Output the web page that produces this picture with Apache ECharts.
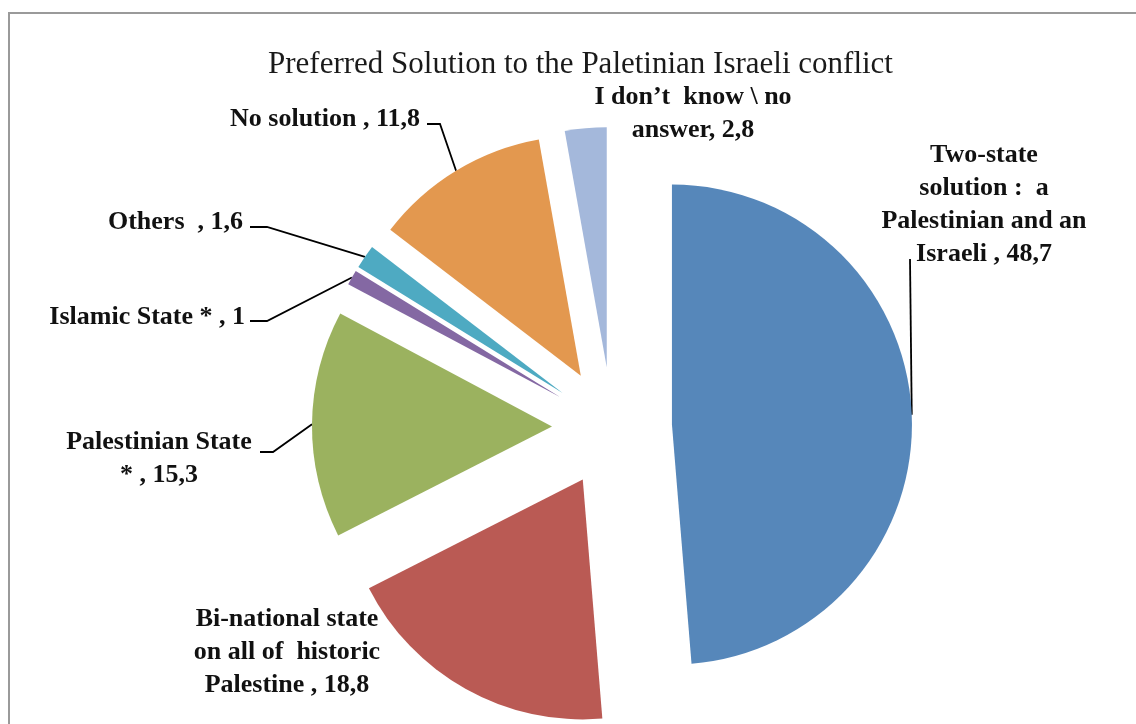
<!DOCTYPE html>
<html><head><meta charset="utf-8">
<script src="https://cdn.jsdelivr.net/npm/echarts@6/dist/echarts.min.js"></script>
<style>html,body{margin:0;padding:0;background:#fff}#c{width:1136px;height:724px}</style>
</head><body><div id="c"></div>
<script>
const titleText = 'Preferred Solution to the Paletinian Israeli conflict';
const categories = [
  'Two-state\nsolution :  a\nPalestinian and an\nIsraeli',
  'Bi-national state\non all of  historic\nPalestine',
  'Palestinian State\n*',
  'Islamic State *',
  'Others ',
  'No solution',
  'I don\u2019t  know \\ no\nanswer'
];
const values = [48.7, 18.8, 15.3, 1, 1.6, 11.8, 2.8];
const separators = [' , ', ' , ', ' , ', ' , ', ' , ', ' , ', ', '];
const colors = ['#5687BA', '#BA5A54', '#9BB25F', '#8468A3', '#4EAAC2', '#E3984F', '#A4B8DB'];

// label placement (text anchor, alignment) and leader elbow points
const labelPos = [
  {x: 984, y: 205, align: 'center', elbow: [[910, 259]]},
  {x: 287, y: 652, align: 'center', elbow: null},
  {x: 159, y: 459, align: 'center', elbow: [[273, 452], [260, 452]]},
  {x: 245, y: 317, align: 'right', elbow: [[267, 321], [250, 321]]},
  {x: 243, y: 222, align: 'right', elbow: [[267, 227], [250, 227]]},
  {x: 420, y: 119, align: 'right', elbow: [[440, 124], [427, 124]]},
  {x: 693, y: 114, align: 'center', elbow: null}
];

const EXPLODE = 60;
const CENTER = [612, 427];
const RADIUS = 240;
const LEN1 = 20;

const fmt = v => String(v).replace('.', ',');

const sliceData = values.map((v, i) => ({
  name: categories[i], value: v, selected: true,
  itemStyle: {color: colors[i]}
}));
const labelData = values.map((v, i) => ({
  name: categories[i], value: v,
  label: {formatter: categories[i] + separators[i] + fmt(v)},
  labelLine: {show: !!labelPos[i].elbow}
}));

const chart = echarts.init(document.getElementById('c'), null, {renderer: 'canvas'});
chart.setOption({
  animation: false,
  backgroundColor: '#fff',
  title: {
    text: titleText, left: 263, top: 44,
    textStyle: {fontFamily: 'Liberation Serif', fontWeight: 'normal', fontSize: 31, color: '#1a1a1a'}
  },
  graphic: [{
    type: 'rect', silent: true,
    shape: {x: 9, y: 13, width: 1300, height: 900},
    style: {fill: null, stroke: '#9a9a9a', lineWidth: 2}
  }],
  series: [{
    type: 'pie',
    center: CENTER,
    radius: RADIUS,
    startAngle: 90,
    clockwise: true,
    selectedMode: 'multiple',
    selectedOffset: EXPLODE,
    data: sliceData,
    emphasis: {disabled: true},
    label: {show: false},
    labelLine: {show: false}
  }, {
    type: 'pie',
    silent: true,
    center: CENTER,
    radius: RADIUS,
    startAngle: 90,
    clockwise: true,
    avoidLabelOverlap: false,
    data: labelData,
    itemStyle: {color: 'rgba(0,0,0,0)'},
    emphasis: {disabled: true},
    label: {
      show: true, position: 'outside',
      fontFamily: 'Liberation Serif', fontWeight: 'bold', fontSize: 26,
      lineHeight: 33, color: '#111'
    },
    labelLine: {show: true, lineStyle: {color: '#000', width: 1.8}, length: LEN1, length2: 10},
    labelLayout: function (p) {
      const lp = labelPos[p.dataIndex];
      const res = {x: lp.x, y: lp.y, align: lp.align, verticalAlign: 'middle'};
      const pts = p.labelLinePoints;
      if (lp.elbow && pts) {
        const dx = pts[1][0] - pts[0][0], dy = pts[1][1] - pts[0][1];
        const d = Math.sqrt(dx * dx + dy * dy) || 1;
        const anchor = [pts[0][0] + EXPLODE * dx / d, pts[0][1] + EXPLODE * dy / d];
        res.labelLinePoints = [anchor].concat(lp.elbow);
      }
      return res;
    }
  }]
});
</script></body></html>
